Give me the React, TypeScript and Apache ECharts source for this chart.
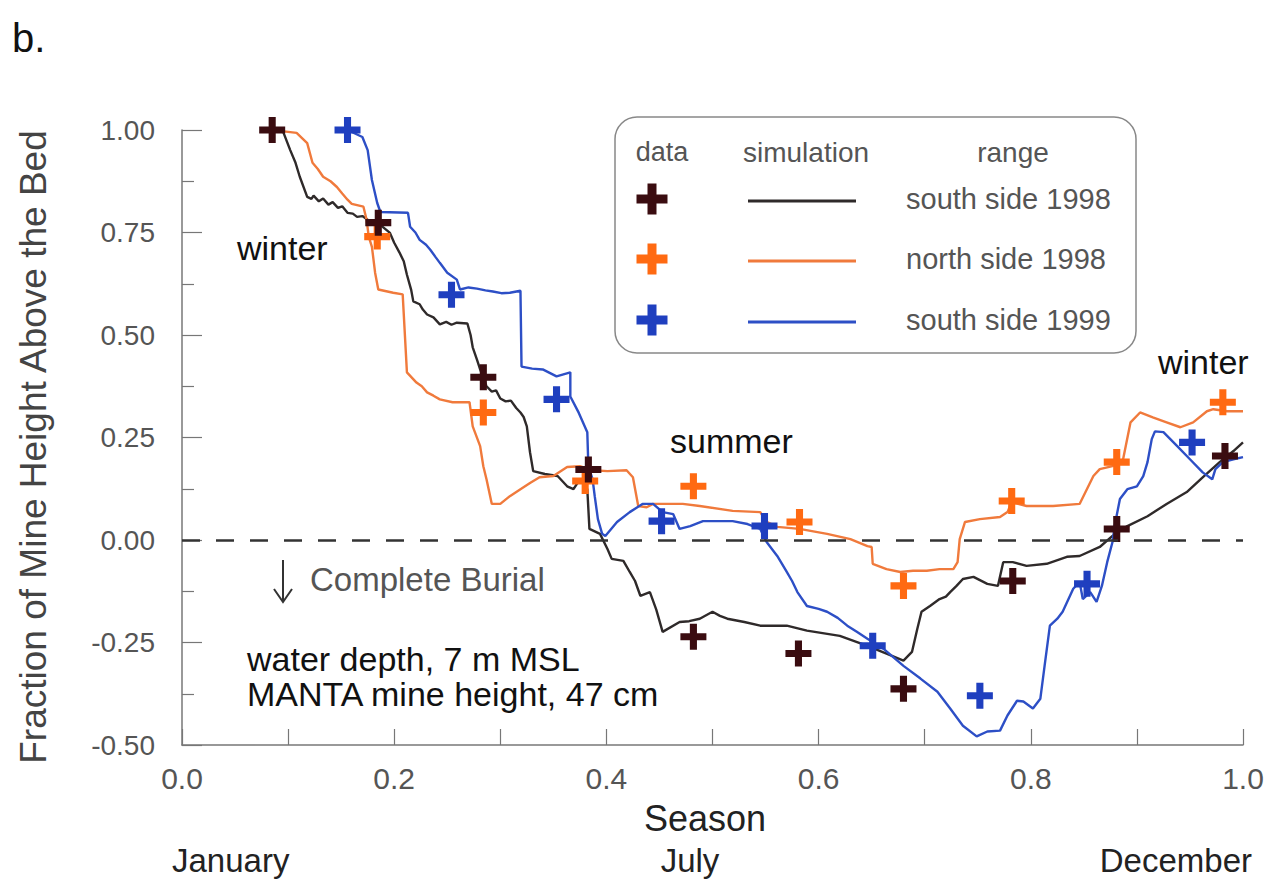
import React, { useEffect, useRef } from "react";
import * as echarts from "echarts";

// ---- data (season fraction, fraction of mine height above bed) ----
const southSide1998Obs = [
  [0.085, 1.0], [0.185, 0.774], [0.284, 0.397], [0.383, 0.172], [0.482, -0.236],
  [0.581, -0.277], [0.68, -0.363], [0.783, -0.1], [0.881, 0.027], [0.983, 0.205],
];
const northSide1998Obs = [
  [0.184, 0.74], [0.284, 0.311], [0.38, 0.144], [0.482, 0.131], [0.582, 0.044],
  [0.68, -0.112], [0.782, 0.095], [0.881, 0.19], [0.981, 0.336],
];
const southSide1999Obs = [
  [0.156, 1.0], [0.254, 0.598], [0.353, 0.343], [0.452, 0.046], [0.549, 0.034],
  [0.651, -0.258], [0.752, -0.38], [0.853, -0.107], [0.952, 0.238],
];

const southSide1998Sim = [
  [0.085, 1.0], [0.095, 0.998], [0.102, 0.951], [0.107, 0.92], [0.111, 0.886],
  [0.118, 0.837], [0.122, 0.832], [0.124, 0.84], [0.129, 0.826], [0.133, 0.833],
  [0.138, 0.818], [0.142, 0.824], [0.147, 0.81], [0.151, 0.814], [0.156, 0.798],
  [0.161, 0.796], [0.165, 0.788], [0.17, 0.79], [0.175, 0.781], [0.18, 0.776],
  [0.188, 0.766], [0.196, 0.749], [0.2, 0.725], [0.205, 0.701], [0.209, 0.68],
  [0.212, 0.647], [0.216, 0.61], [0.218, 0.582], [0.224, 0.575], [0.227, 0.562],
  [0.231, 0.55], [0.237, 0.543], [0.243, 0.526], [0.249, 0.532], [0.254, 0.525],
  [0.259, 0.53], [0.269, 0.528], [0.272, 0.5], [0.274, 0.47], [0.278, 0.44],
  [0.281, 0.416], [0.287, 0.375], [0.292, 0.362], [0.296, 0.365], [0.3, 0.345],
  [0.305, 0.338], [0.31, 0.34], [0.315, 0.322], [0.319, 0.311], [0.322, 0.3],
  [0.325, 0.277], [0.328, 0.214], [0.331, 0.168], [0.342, 0.161], [0.354, 0.156],
  [0.363, 0.131], [0.369, 0.124], [0.375, 0.148], [0.382, 0.124], [0.384, 0.027],
  [0.394, 0.015], [0.401, -0.022], [0.405, -0.046], [0.416, -0.051], [0.422, -0.078],
  [0.427, -0.1], [0.432, -0.136], [0.441, -0.127], [0.447, -0.17], [0.453, -0.224],
  [0.469, -0.2], [0.478, -0.198], [0.488, -0.192], [0.5, -0.175], [0.507, -0.185],
  [0.514, -0.192], [0.53, -0.2], [0.545, -0.209], [0.57, -0.209], [0.589, -0.221],
  [0.62, -0.234], [0.646, -0.258], [0.664, -0.277], [0.68, -0.294], [0.688, -0.273],
  [0.693, -0.217], [0.697, -0.175], [0.705, -0.161], [0.714, -0.144], [0.72, -0.138],
  [0.724, -0.127], [0.73, -0.112], [0.736, -0.095], [0.746, -0.09], [0.759, -0.107],
  [0.769, -0.112], [0.774, -0.054], [0.783, -0.054], [0.796, -0.063], [0.815, -0.058],
  [0.834, -0.041], [0.846, -0.039], [0.865, -0.017], [0.877, 0.01], [0.891, 0.034],
  [0.91, 0.058], [0.928, 0.088], [0.947, 0.117], [0.962, 0.153], [0.978, 0.19],
  [0.991, 0.217], [1.0, 0.238],
];

const northSide1998Sim = [
  [0.092, 0.998], [0.108, 0.993], [0.118, 0.968], [0.123, 0.92], [0.128, 0.905],
  [0.133, 0.886], [0.14, 0.875], [0.146, 0.861], [0.151, 0.845], [0.156, 0.83],
  [0.16, 0.82], [0.171, 0.813], [0.174, 0.781], [0.176, 0.74], [0.179, 0.715],
  [0.182, 0.652], [0.185, 0.611], [0.199, 0.603], [0.208, 0.599], [0.212, 0.409],
  [0.221, 0.384], [0.226, 0.375], [0.231, 0.36], [0.237, 0.352], [0.243, 0.343],
  [0.255, 0.336], [0.271, 0.336], [0.274, 0.277], [0.281, 0.229], [0.284, 0.18],
  [0.287, 0.148], [0.292, 0.088], [0.3, 0.088], [0.309, 0.107], [0.319, 0.124],
  [0.328, 0.139], [0.337, 0.153], [0.35, 0.156], [0.363, 0.178], [0.375, 0.18],
  [0.387, 0.17], [0.401, 0.168], [0.419, 0.17], [0.425, 0.153], [0.43, 0.083],
  [0.438, 0.08], [0.444, 0.088], [0.472, 0.088], [0.488, 0.083], [0.519, 0.071],
  [0.545, 0.068], [0.551, 0.044], [0.561, 0.032], [0.582, 0.027], [0.608, 0.015],
  [0.63, 0.002], [0.646, -0.015], [0.65, -0.017], [0.651, -0.058], [0.664, -0.071],
  [0.677, -0.078], [0.689, -0.075], [0.702, -0.075], [0.714, -0.071], [0.727, -0.071],
  [0.731, -0.054], [0.733, 0.002], [0.738, 0.044], [0.752, 0.051], [0.771, 0.056],
  [0.778, 0.068], [0.782, 0.092], [0.796, 0.083], [0.821, 0.083], [0.846, 0.088],
  [0.859, 0.156], [0.865, 0.173], [0.877, 0.18], [0.887, 0.197], [0.894, 0.287],
  [0.903, 0.311], [0.915, 0.299], [0.928, 0.287], [0.941, 0.275], [0.953, 0.287],
  [0.966, 0.314], [0.972, 0.319], [0.985, 0.314], [1.0, 0.314],
];

const southSide1999Sim = [
  [0.156, 1.0], [0.17, 0.983], [0.175, 0.951], [0.179, 0.878], [0.184, 0.822],
  [0.187, 0.8], [0.213, 0.798], [0.215, 0.764], [0.22, 0.75], [0.224, 0.732],
  [0.23, 0.72], [0.234, 0.708], [0.239, 0.69], [0.243, 0.676], [0.25, 0.652],
  [0.259, 0.635], [0.262, 0.611], [0.27, 0.616], [0.278, 0.613], [0.286, 0.609],
  [0.293, 0.606], [0.301, 0.602], [0.309, 0.603], [0.319, 0.608], [0.32, 0.423],
  [0.33, 0.418], [0.34, 0.416], [0.353, 0.399], [0.366, 0.409], [0.366, 0.35],
  [0.374, 0.31], [0.382, 0.263], [0.383, 0.18], [0.387, 0.148], [0.389, 0.107],
  [0.392, 0.051], [0.396, 0.015], [0.399, 0.01], [0.41, 0.044], [0.422, 0.068],
  [0.434, 0.088], [0.444, 0.088], [0.453, 0.068], [0.463, 0.063], [0.469, 0.027],
  [0.479, 0.034], [0.491, 0.046], [0.504, 0.046], [0.519, 0.046], [0.533, 0.039],
  [0.545, 0.027], [0.551, -0.005], [0.561, -0.039], [0.57, -0.078], [0.575, -0.1],
  [0.58, -0.127], [0.589, -0.161], [0.6, -0.168], [0.608, -0.175], [0.618, -0.19],
  [0.627, -0.209], [0.636, -0.224], [0.646, -0.241], [0.661, -0.265], [0.68, -0.307],
  [0.696, -0.338], [0.712, -0.37], [0.724, -0.411], [0.736, -0.453], [0.749, -0.479],
  [0.759, -0.467], [0.771, -0.465], [0.778, -0.428], [0.787, -0.392], [0.793, -0.394],
  [0.802, -0.411], [0.809, -0.387], [0.813, -0.307], [0.818, -0.209], [0.825, -0.192],
  [0.83, -0.175], [0.84, -0.119], [0.846, -0.102], [0.849, -0.144], [0.856, -0.127],
  [0.862, -0.151], [0.867, -0.112], [0.872, -0.054], [0.877, -0.005], [0.879, 0.034],
  [0.884, 0.1], [0.891, 0.124], [0.9, 0.131], [0.906, 0.156], [0.91, 0.19],
  [0.914, 0.246], [0.917, 0.265], [0.925, 0.263], [0.938, 0.229], [0.95, 0.197],
  [0.962, 0.165], [0.971, 0.148], [0.974, 0.173], [0.981, 0.19], [0.991, 0.197],
  [1.0, 0.202],
];

const legendRanges = ["south side 1998", "north side 1998", "south side 1999"];
const legendHeaders = ["data", "simulation", "range"];
const monthLabels = ["January", "July", "December"];

const FONT = '"Liberation Sans", Arial, Helvetica, sans-serif';
const CROSS = "path://M4,0H7V4H11V7H7V11H4V7H0V4H4Z";

const COLORS = {
  s98Line: "#2f2a2a",
  s98Mark: "#3a0c10",
  n98Line: "#f07a3c",
  n98Mark: "#ff6a12",
  s99Line: "#2d4fc6",
  s99Mark: "#1f3fbf",
};

function crossPoints(cx: number, cy: number, size: number, thick: number) {
  const h = size / 2;
  const t = thick / 2;
  return [
    [cx - t, cy - h], [cx + t, cy - h], [cx + t, cy - t], [cx + h, cy - t],
    [cx + h, cy + t], [cx + t, cy + t], [cx + t, cy + h], [cx - t, cy + h],
    [cx - t, cy + t], [cx - h, cy + t], [cx - h, cy - t], [cx - t, cy - t],
  ];
}

function txt(text: string, x: number, y: number, size: number, fill: string, align = "left", extra: any = {}) {
  return {
    type: "text",
    x,
    y,
    z: 10,
    ...extra,
    style: { text, fontSize: size, fontFamily: FONT, fill, align, verticalAlign: "middle" },
  };
}

export default function App() {
  const ref = useRef<HTMLDivElement>(null);

  useEffect(() => {
    if (!ref.current) return;
    const chart = echarts.init(ref.current, null, { renderer: "svg" });

    const legendRowsY = [199, 259, 320];
    const legendMarks = [COLORS.s98Mark, COLORS.n98Mark, COLORS.s99Mark];
    const legendLines = [COLORS.s98Line, COLORS.n98Line, COLORS.s99Line];

    const graphic: any[] = [
      txt("b.", 12, 38, 40, "#111"),
      {
        type: "text",
        x: 33,
        y: 447,
        rotation: Math.PI / 2,
        z: 10,
        style: {
          text: "Fraction of Mine Height Above the Bed",
          fontSize: 37,
          fontFamily: FONT,
          fill: "#444",
          align: "center",
          verticalAlign: "middle",
        },
      },
      txt("Season", 705, 818, 36, "#222", "center"),
      txt(monthLabels[0], 172, 860, 33, "#222", "left"),
      txt(monthLabels[1], 690, 860, 33, "#222", "center"),
      txt(monthLabels[2], 1252, 860, 33, "#222", "right"),
      txt("winter", 237, 248, 34, "#111"),
      txt("winter", 1158, 362, 34, "#111"),
      txt("summer", 670, 441, 34, "#111"),
      txt("Complete Burial", 310, 579, 33, "#555"),
      txt("water depth, 7 m MSL", 247, 659, 34, "#111"),
      txt("MANTA mine height, 47 cm", 247, 694, 34, "#111"),
      {
        type: "line",
        z: 10,
        shape: { x1: 283, y1: 560, x2: 283, y2: 601 },
        style: { stroke: "#333", lineWidth: 2 },
      },
      {
        type: "polyline",
        z: 10,
        shape: { points: [[274, 589], [283, 602], [292, 589]] },
        style: { stroke: "#333", lineWidth: 2, fill: null },
      },
      // legend box
      {
        type: "rect",
        z: 9,
        shape: { x: 615, y: 117, width: 521, height: 236, r: 22 },
        style: { fill: "#fff", stroke: "#888", lineWidth: 1.5 },
      },
      txt(legendHeaders[0], 662, 152, 27, "#555", "center"),
      txt(legendHeaders[1], 806, 152, 28, "#555", "center"),
      txt(legendHeaders[2], 1013, 152, 28, "#555", "center"),
    ];
    legendRowsY.forEach((y, i) => {
      graphic.push({
        type: "polygon",
        z: 10,
        shape: { points: crossPoints(652, y, 31, 9) },
        style: { fill: legendMarks[i] },
      });
      graphic.push({
        type: "line",
        z: 10,
        shape: { x1: 748, y1: y + 2, x2: 856, y2: y + 2 },
        style: { stroke: legendLines[i], lineWidth: 3 },
      });
      graphic.push(txt(legendRanges[i], 906, y, 29, "#555", "left"));
    });

    const axisColor = "#777";
    const markStyle = (color: string) => ({ color, opacity: 1 });

    const option: any = {
      animation: false,
      backgroundColor: "#ffffff",
      grid: { left: 182, top: 130, width: 1061, height: 615, containLabel: false },
      xAxis: {
        type: "value",
        min: 0,
        max: 1,
        interval: 0.2,
        axisLine: { show: true, onZero: false, lineStyle: { color: axisColor, width: 1.5 } },
        axisTick: { show: true, inside: true, length: 16, lineStyle: { color: axisColor, width: 1.2 } },
        minorTick: { show: true, splitNumber: 2, length: 16, lineStyle: { color: axisColor, width: 1.2 } },
        splitLine: { show: false },
        minorSplitLine: { show: false },
        axisLabel: {
          margin: 18,
          fontSize: 30,
          color: "#555",
          fontFamily: FONT,
          formatter: (v: number) => v.toFixed(1),
        },
      },
      yAxis: {
        type: "value",
        min: -0.5,
        max: 1,
        interval: 0.25,
        axisLine: { show: true, onZero: false, lineStyle: { color: axisColor, width: 1.5 } },
        axisTick: { show: true, inside: true, length: 20, lineStyle: { color: axisColor, width: 1.2 } },
        minorTick: { show: true, splitNumber: 2, length: 12, lineStyle: { color: axisColor, width: 1.2 } },
        splitLine: { show: false },
        minorSplitLine: { show: false },
        axisLabel: {
          margin: 27,
          fontSize: 28,
          color: "#555",
          fontFamily: FONT,
          formatter: (v: number) => v.toFixed(2),
        },
      },
      graphic,
      series: [
        {
          name: "south side 1998 simulation",
          type: "line",
          data: southSide1998Sim,
          showSymbol: false,
          symbol: "none",
          lineStyle: { color: COLORS.s98Line, width: 2.4 },
          z: 2,
          markLine: {
            silent: true,
            symbol: ["none", "none"],
            label: { show: false },
            lineStyle: { type: [18, 16], color: "#333", width: 2.5 },
            data: [{ yAxis: 0 }],
          },
        },
        {
          name: "north side 1998 simulation",
          type: "line",
          data: northSide1998Sim,
          showSymbol: false,
          symbol: "none",
          lineStyle: { color: COLORS.n98Line, width: 2.4 },
          z: 2,
        },
        {
          name: "south side 1999 simulation",
          type: "line",
          data: southSide1999Sim,
          showSymbol: false,
          symbol: "none",
          lineStyle: { color: COLORS.s99Line, width: 2.4 },
          z: 2,
        },
        {
          name: "south side 1998 data",
          type: "scatter",
          data: southSide1998Obs,
          symbol: CROSS,
          symbolSize: 26,
          itemStyle: markStyle(COLORS.s98Mark),
          z: 4,
        },
        {
          name: "north side 1998 data",
          type: "scatter",
          data: northSide1998Obs,
          symbol: CROSS,
          symbolSize: 26,
          itemStyle: markStyle(COLORS.n98Mark),
          z: 3,
        },
        {
          name: "south side 1999 data",
          type: "scatter",
          data: southSide1999Obs,
          symbol: CROSS,
          symbolSize: 26,
          itemStyle: markStyle(COLORS.s99Mark),
          z: 3,
        },
      ],
    };

    chart.setOption(option);
    return () => chart.dispose();
  }, []);

  return (
    <div
      ref={ref}
      style={{ position: "fixed", left: 0, top: 0, width: 1278, height: 880, background: "#fff" }}
    />
  );
}
